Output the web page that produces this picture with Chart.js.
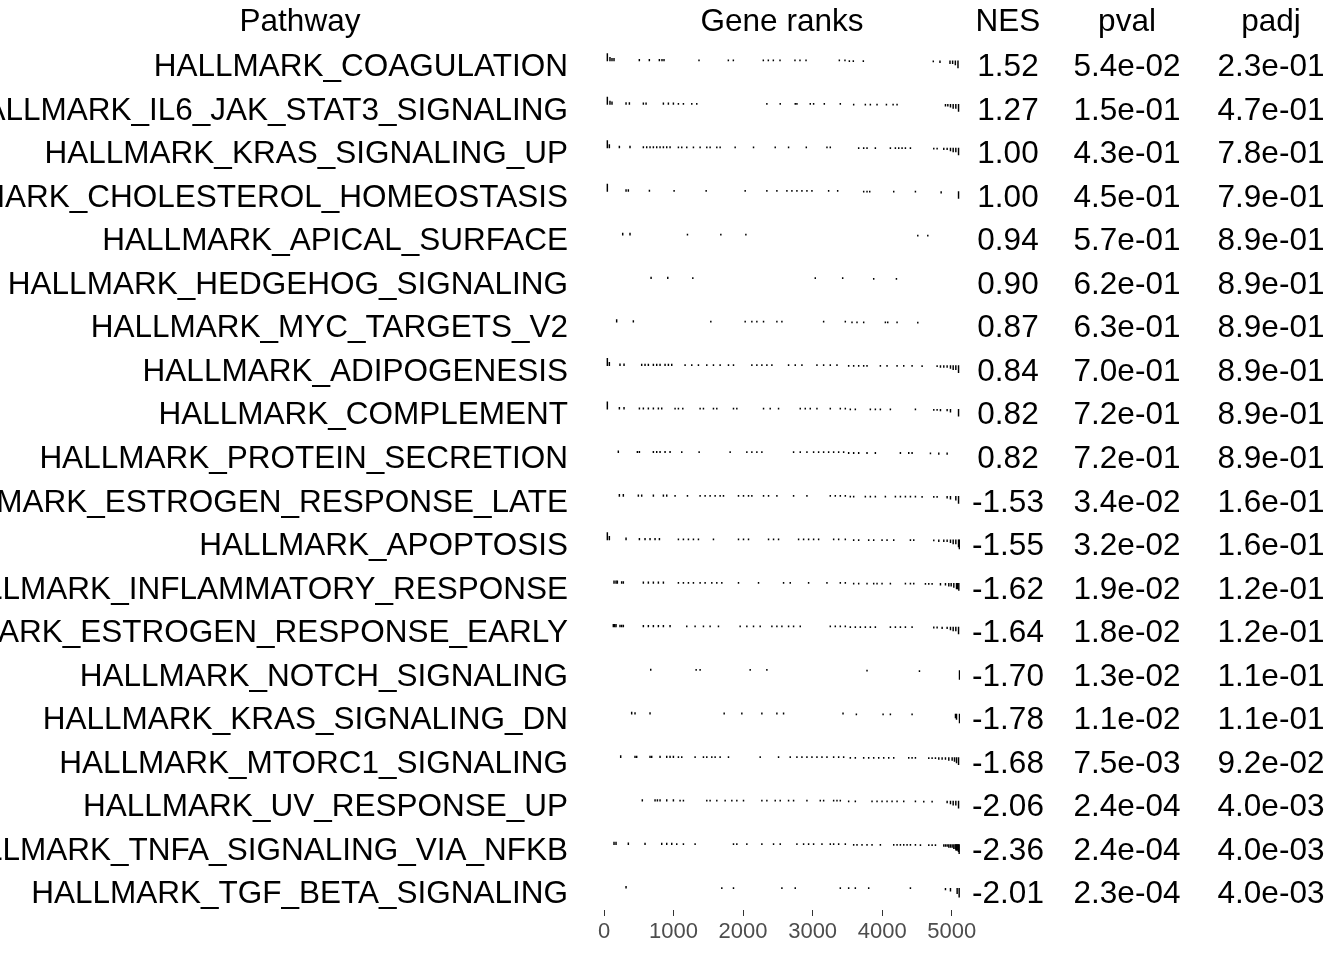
<!DOCTYPE html>
<html>
<head>
<meta charset="utf-8">
<script src="https://cdn.jsdelivr.net/npm/chart.js@4/dist/chart.umd.min.js"></script>
<style>
  html, body { margin: 0; padding: 0; background: #ffffff; }
  #wrap { width: 1344px; height: 960px; position: relative; }
  canvas { display: block; }
</style>
</head>
<body>
<div id="wrap"><canvas id="c" width="1344" height="960"></canvas></div>
<script>
// ---------------- data ----------------
const pathways = [
  "HALLMARK_COAGULATION",
  "HALLMARK_IL6_JAK_STAT3_SIGNALING",
  "HALLMARK_KRAS_SIGNALING_UP",
  "HALLMARK_CHOLESTEROL_HOMEOSTASIS",
  "HALLMARK_APICAL_SURFACE",
  "HALLMARK_HEDGEHOG_SIGNALING",
  "HALLMARK_MYC_TARGETS_V2",
  "HALLMARK_ADIPOGENESIS",
  "HALLMARK_COMPLEMENT",
  "HALLMARK_PROTEIN_SECRETION",
  "HALLMARK_ESTROGEN_RESPONSE_LATE",
  "HALLMARK_APOPTOSIS",
  "HALLMARK_INFLAMMATORY_RESPONSE",
  "HALLMARK_ESTROGEN_RESPONSE_EARLY",
  "HALLMARK_NOTCH_SIGNALING",
  "HALLMARK_KRAS_SIGNALING_DN",
  "HALLMARK_MTORC1_SIGNALING",
  "HALLMARK_UV_RESPONSE_UP",
  "HALLMARK_TNFA_SIGNALING_VIA_NFKB",
  "HALLMARK_TGF_BETA_SIGNALING"
];
const nesValues = [1.52, 1.27, 1.00, 1.00, 0.94, 0.90, 0.87, 0.84, 0.82, 0.82,
  -1.53, -1.55, -1.62, -1.64, -1.70, -1.78, -1.68, -2.06, -2.36, -2.01];
const pvalValues = [5.4e-2, 1.5e-1, 4.3e-1, 4.5e-1, 5.7e-1, 6.2e-1, 6.3e-1, 7.0e-1, 7.2e-1, 7.2e-1,
  3.4e-2, 3.2e-2, 1.9e-2, 1.8e-2, 1.3e-2, 1.1e-2, 7.5e-3, 2.4e-4, 2.4e-4, 2.3e-4];
const padjValues = [2.3e-1, 4.7e-1, 7.8e-1, 7.9e-1, 8.9e-1, 8.9e-1, 8.9e-1, 8.9e-1, 8.9e-1, 8.9e-1,
  1.6e-1, 1.6e-1, 1.2e-1, 1.2e-1, 1.1e-1, 1.1e-1, 9.2e-2, 4.0e-3, 4.0e-3, 4.0e-3];
const columnHeaders = ["Pathway", "Gene ranks", "NES", "pval", "padj"];
const rankTickValues = [0, 1000, 2000, 3000, 4000, 5000];
const rankListLength = 5119;

// ranked-list statistic (scaled to max |stat|), read at rank breakpoints
const statKnotRanks  = [0,    60,   100,  200,  400,  1000, 2500,  3500,   4500,  4800,  4950,  5020,  5060,  5090,  5105];
const statKnotValues = [0.34, 0.16, 0.12, 0.09, 0.07, 0.05, 0.035, -0.035, -0.05, -0.08, -0.13, -0.18, -0.25, -0.32, -0.41];

// gene positions in the ranked list, per pathway
const ranksCoagulation = [48, 86, 115, 144, 508, 652, 796, 834, 863, 1366, 1788, 1860, 2291, 2363, 2435, 2531, 2746, 2818, 2905, 3384, 3465, 3528, 3585, 3729, 4735, 4831, 4975, 5013, 5052, 5090];
const ranksIl6 = [48, 86, 115, 317, 365, 566, 605, 854, 926, 998, 1070, 1142, 1262, 1334, 2342, 2534, 2750, 2774, 2966, 3014, 3168, 3398, 3590, 3758, 3830, 3926, 4061, 4157, 4214, 4910, 4944, 4982, 5021, 5059, 5098];
const ranksKrasUp = [48, 77, 221, 374, 566, 614, 662, 710, 758, 806, 854, 902, 950, 1070, 1118, 1190, 1286, 1382, 1478, 1526, 1622, 1670, 1886, 2150, 2462, 2654, 2909, 3206, 3254, 3662, 3734, 3782, 3902, 4118, 4190, 4238, 4286, 4334, 4406, 4742, 4790, 4886, 4934, 4982, 5021, 5059, 5098];
const ranksCholesterol = [48, 317, 350, 653, 1008, 1469, 2030, 2342, 2486, 2630, 2702, 2774, 2846, 2918, 2990, 3230, 3360, 3734, 3782, 3821, 4166, 4478, 4848, 5098];
const ranksApical = [269, 374, 1200, 1680, 2040, 4512, 4656];
const ranksHedgehog = [677, 917, 1277, 3038, 3432, 3878, 4205];
const ranksMycV2 = [182, 422, 1536, 2030, 2126, 2198, 2294, 2486, 2558, 3158, 3470, 3566, 3638, 3734, 4046, 4080, 4214, 4512];
const ranksAdipogenesis = [48, 77, 230, 288, 542, 590, 638, 710, 758, 806, 878, 926, 974, 1166, 1262, 1358, 1478, 1574, 1670, 1790, 1862, 2126, 2198, 2270, 2342, 2414, 2654, 2750, 2846, 3062, 3158, 3254, 3350, 3518, 3590, 3662, 3734, 3782, 3974, 4070, 4214, 4310, 4430, 4574, 4790, 4838, 4886, 4934, 4982, 5021, 5059, 5098];
const ranksComplement = [48, 221, 288, 509, 566, 638, 710, 782, 830, 1022, 1070, 1133, 1382, 1430, 1574, 1622, 1862, 1910, 2294, 2390, 2510, 2822, 2894, 2966, 3062, 3254, 3398, 3470, 3542, 3614, 3830, 3902, 3974, 4118, 4478, 4742, 4790, 4838, 4934, 4982, 5098];
const ranksProteinSecretion = [206, 480, 509, 710, 758, 806, 878, 950, 1118, 1368, 1814, 2054, 2126, 2198, 2270, 2726, 2822, 2918, 3014, 3086, 3158, 3230, 3302, 3374, 3446, 3518, 3590, 3662, 3782, 3902, 4262, 4382, 4430, 4694, 4814, 4934];
const ranksEstrogenLate = [221, 278, 494, 542, 710, 854, 902, 1022, 1200, 1382, 1454, 1526, 1598, 1670, 1718, 1934, 2006, 2078, 2126, 2294, 2366, 2486, 2726, 2918, 3254, 3326, 3398, 3470, 3542, 3590, 3758, 3830, 3902, 4046, 4190, 4262, 4334, 4406, 4478, 4574, 4742, 4790, 4934, 4982, 5059, 5098];
const ranksApoptosis = [48, 77, 317, 509, 590, 662, 734, 797, 1070, 1142, 1214, 1286, 1358, 1574, 1934, 2006, 2078, 2366, 2438, 2510, 2798, 2870, 2942, 3014, 3086, 3302, 3374, 3470, 3590, 3662, 3806, 3878, 3998, 4070, 4166, 4406, 4454, 4742, 4814, 4886, 4934, 4982, 5021, 5059, 5098, 5110];
const ranksInflammatory = [144, 173, 192, 254, 278, 566, 638, 710, 782, 854, 1070, 1142, 1214, 1286, 1382, 1454, 1550, 1622, 1694, 1934, 2222, 2582, 2678, 2942, 3206, 3398, 3470, 3590, 3662, 3782, 3878, 3926, 3998, 4118, 4334, 4406, 4454, 4622, 4670, 4718, 4838, 4910, 4958, 4992, 5030, 5069, 5085, 5102];
const ranksEstrogenEarly = [134, 154, 173, 230, 254, 278, 566, 638, 710, 782, 854, 950, 1190, 1310, 1430, 1526, 1646, 1958, 2054, 2150, 2246, 2414, 2486, 2558, 2654, 2726, 2822, 3254, 3326, 3398, 3470, 3542, 3614, 3686, 3758, 3830, 3902, 4118, 4190, 4262, 4334, 4430, 4742, 4790, 4862, 4934, 4982, 5021, 5059, 5098];
const ranksNotch = [672, 1325, 1382, 2102, 2342, 3782, 4536, 5112];
const ranksKrasDn = [398, 446, 662, 1728, 1982, 2270, 2486, 2582, 3437, 3629, 4013, 4118, 4430, 5054, 5069, 5112];
const ranksMtorc1 = [240, 446, 470, 662, 686, 806, 902, 950, 998, 1070, 1118, 1310, 1430, 1478, 1550, 1598, 1670, 1790, 2246, 2510, 2678, 2774, 2846, 2918, 2990, 3062, 3134, 3206, 3302, 3374, 3446, 3542, 3614, 3734, 3806, 3878, 3950, 4022, 4094, 4166, 4382, 4430, 4478, 4670, 4718, 4766, 4814, 4862, 4910, 4958, 5006, 5040, 5069, 5098];
const ranksUvUp = [551, 734, 768, 806, 902, 998, 1094, 1142, 1478, 1526, 1622, 1742, 1838, 1910, 2006, 2270, 2342, 2462, 2534, 2654, 2726, 2918, 3110, 3158, 3302, 3350, 3398, 3518, 3614, 3854, 3926, 3998, 4070, 4142, 4214, 4310, 4478, 4598, 4718, 4934, 4982, 5021, 5059, 5098];
const ranksTnfa = [144, 173, 350, 590, 830, 902, 974, 1046, 1142, 1310, 1862, 1910, 2054, 2270, 2438, 2534, 2774, 2870, 2942, 3014, 3134, 3254, 3302, 3374, 3470, 3590, 3638, 3710, 3782, 3854, 3974, 4166, 4214, 4262, 4310, 4358, 4406, 4478, 4550, 4670, 4718, 4766, 4886, 4910, 4934, 4958, 4982, 5006, 5030, 5050, 5060, 5069, 5078, 5088, 5097, 5107];
const ranksTgfBeta = [317, 1694, 1862, 2558, 2750, 3398, 3518, 3614, 3806, 4406, 4910, 4982, 5078, 5107];

const pathwayRanks = [ranksCoagulation, ranksIl6, ranksKrasUp, ranksCholesterol, ranksApical,
  ranksHedgehog, ranksMycV2, ranksAdipogenesis, ranksComplement, ranksProteinSecretion,
  ranksEstrogenLate, ranksApoptosis, ranksInflammatory, ranksEstrogenEarly, ranksNotch,
  ranksKrasDn, ranksMtorc1, ranksUvUp, ranksTnfa, ranksTgfBeta];

// ---------------- helpers ----------------
const FONT = "'Liberation Sans', Arial, Helvetica, sans-serif";
const TEXT_SIZE = 31.5;
const TITLE_PAD_TOP = 7;
const TITLE_PAD_BOTTOM = 2.2;
const TITLE_LINE_HEIGHT = 0.95;
const TEXT_DY = 6.5;
const nRows = pathways.length;

function statAtRank(r) {
  let v = statKnotValues[0];
  for (let k = 0; k < statKnotRanks.length; k++) {
    if (statKnotRanks[k] <= r) v = statKnotValues[k];
  }
  return v;
}
function rowCenter(i) { return nRows - 1 - i; }
function fmtExp(v) {
  const s = v.toExponential(1);
  const [m, e] = s.split('e');
  const sign = e[0] === '-' ? '-' : '+';
  const d = e.replace(/^[+-]/, '');
  return m + 'e' + sign + (d.length < 2 ? '0' + d : d);
}

const datasets = pathwayRanks.map((ranks, i) => ({
  label: pathways[i],
  stack: 'ranks',
  backgroundColor: '#000000',
  borderWidth: 0,
  barThickness: 0.8,
  minBarLength: 1.1,
  data: ranks.map(r => ({ x: r, y: [rowCenter(i), rowCenter(i) + statAtRank(r) / 2] }))
}));

const tableTextPlugin = {
  id: 'tableText',
  afterDraw(chart) {
    const { ctx, chartArea } = chart;
    const yScale = chart.scales.y;
    const tb = chart.titleBlock;
    const headerY = (tb ? tb.top : 0) + TITLE_PAD_TOP + TEXT_SIZE * TITLE_LINE_HEIGHT / 2;
    const cols = [
      { x: chartArea.right + 48, header: columnHeaders[2], vals: nesValues.map(v => v.toFixed(2)) },
      { x: chartArea.right + 167, header: columnHeaders[3], vals: pvalValues.map(fmtExp) },
      { x: chartArea.right + 311, header: columnHeaders[4], vals: padjValues.map(fmtExp) }
    ];
    ctx.save();
    ctx.font = TEXT_SIZE + 'px ' + FONT;
    ctx.fillStyle = '#000000';
    ctx.textAlign = 'center';
    ctx.textBaseline = 'middle';
    ctx.fillText(columnHeaders[0], chartArea.left / 2 - 2, headerY);
    cols.forEach(col => {
      ctx.fillText(col.header, col.x, headerY);
      col.vals.forEach((s, i) => {
        ctx.fillText(s, col.x, yScale.getPixelForValue(rowCenter(i)) + TEXT_DY);
      });
    });
    ctx.restore();
  }
};

new Chart(document.getElementById('c'), {
  type: 'bar',
  data: { datasets },
  plugins: [tableTextPlugin],
  options: {
    responsive: false,
    devicePixelRatio: 1,
    animation: false,
    events: [],
    layout: { padding: { top: 0, right: 384, bottom: 11.6, left: 0 } },
    plugins: {
      legend: { display: false },
      tooltip: { enabled: false },
      title: {
        display: true,
        text: columnHeaders[1],
        fullSize: false,
        color: '#000000',
        font: { family: FONT, size: TEXT_SIZE, weight: 'normal', lineHeight: TITLE_LINE_HEIGHT },
        padding: { top: TITLE_PAD_TOP, bottom: TITLE_PAD_BOTTOM }
      }
    },
    scales: {
      x: {
        type: 'linear',
        min: 0,
        max: rankListLength,
        offset: false,
        border: { display: false },
        grid: { display: true, drawOnChartArea: false, drawTicks: true, tickLength: 6, color: '#333333', lineWidth: 1, offset: false },
        afterBuildTicks: (scale) => { scale.ticks = rankTickValues.map(v => ({ value: v })); },
        ticks: {
          autoSkip: false, maxRotation: 0, minRotation: 0, padding: 3,
          color: '#4D4D4D', font: { family: FONT, size: 22 },
          callback: (v) => String(v)
        }
      },
      y: {
        type: 'linear',
        min: -0.5,
        max: nRows - 0.5,
        stacked: false,
        beginAtZero: false,
        border: { display: false },
        grid: { display: false, drawTicks: false },
        afterBuildTicks: (scale) => { scale.ticks = pathways.map((_, i) => ({ value: rowCenter(i) })); },
        afterFit: (scale) => { scale.width = 604; scale.paddingTop = 0; scale.paddingBottom = 0; },
        ticks: {
          autoSkip: false, padding: 36, labelOffset: TEXT_DY,
          color: '#000000', font: { family: FONT, size: TEXT_SIZE },
          callback: (v) => pathways[nRows - 1 - v]
        }
      }
    }
  }
});
</script>
</body>
</html>
